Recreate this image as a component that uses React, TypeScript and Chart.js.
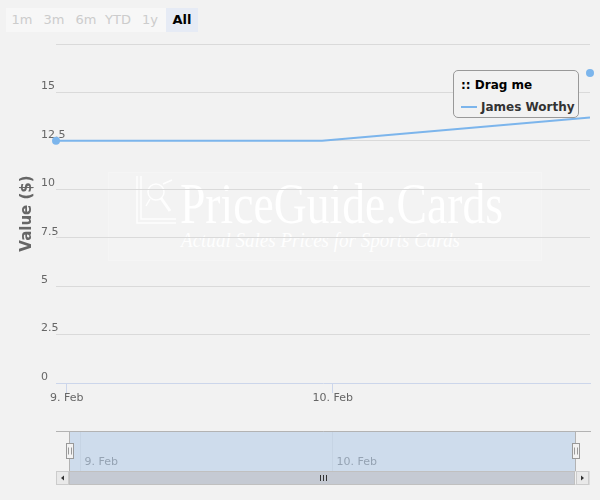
import React, { useEffect, useRef } from 'react';
import { Chart, registerables } from 'chart.js';

Chart.register(...registerables);

// ---- data (days relative to 9 Feb 00:00) ----
const seriesName = 'James Worthy';
const seriesDays = [-0.04, 0.96, 1.967];
const seriesValues = [12.5, 12.5, 13.7];
const extraPointDays = [1.967];
const extraPointValues = [16];
const xTickDays = [0, 1];
const xTickLabels = ['9. Feb', '10. Feb'];
const yTickValues = [0, 2.5, 5, 7.5, 10, 12.5, 15, 17.5];
const yTickLabels = ['0', '2.5', '5', '7.5', '10', '12.5', '15', ''];
const rangeButtons = ['1m', '3m', '6m', 'YTD', '1y', 'All'];
const selectedButton = 'All';
const xMin = -0.04;
const xMax = 1.967;
const yMin = 0;
const yMax = 17.5;
const yTitle = 'Value ($)';
const legendTitle = ':: Drag me';

const FONT = 'DejaVu Sans';
const SERIES_COLOR = '#7cb5ec';

const navigatorPlugin = {
  id: 'navigatorPlugin',
  afterDraw(chart: any) {
    const ctx: CanvasRenderingContext2D = chart.ctx;
    const { left, right } = chart.chartArea;
    const top = 431;
    const height = 40;
    const bottom = top + height;
    const sbH = 14;
    const navL = left + sbH;
    const navR = right - sbH;
    const toX = (d: number) => navL + ((d - xMin) / (xMax - xMin)) * (navR - navL);

    ctx.save();
    // navigator grid lines + labels
    ctx.font = `11px "${FONT}"`;
    ctx.textAlign = 'left';
    ctx.textBaseline = 'middle';
    xTickDays.forEach((d, i) => {
      const x = Math.round(toX(d)) + 0.5;
      ctx.strokeStyle = '#e6e6e6';
      ctx.lineWidth = 1;
      ctx.beginPath();
      ctx.moveTo(x, top);
      ctx.lineTo(x, bottom);
      ctx.stroke();
      ctx.fillStyle = '#999999';
      ctx.fillText(xTickLabels[i], x + 4, top + 31);
    });

    // mask
    ctx.fillStyle = 'rgba(140,180,225,0.36)';
    ctx.fillRect(navL - 1, top, navR - navL, height);

    // outline
    ctx.strokeStyle = '#b3b3b3';
    ctx.lineWidth = 1;
    ctx.beginPath();
    ctx.moveTo(left, top + 0.5);
    ctx.lineTo(right + 1, top + 0.5);
    ctx.moveTo(navL - 0.5, top);
    ctx.lineTo(navL - 0.5, bottom);
    ctx.moveTo(navR - 0.5, top);
    ctx.lineTo(navR - 0.5, bottom);
    ctx.stroke();

    // scrollbar track
    ctx.fillStyle = '#f2f2f2';
    ctx.strokeStyle = '#dcdcdc';
    ctx.fillRect(left, bottom, right - left, sbH);
    ctx.strokeRect(left + 0.5, bottom + 0.5, right - left - 1, sbH - 1);
    // thumb
    ctx.fillStyle = '#c5cad3';
    ctx.strokeStyle = '#c0c0c0';
    ctx.fillRect(navL - 1, bottom, navR - navL, sbH);
    ctx.strokeRect(navL - 0.5, bottom + 0.5, navR - navL - 1, sbH - 1);
    // thumb grip
    const cx = Math.round((navL + navR) / 2) + 0.5;
    ctx.strokeStyle = '#333333';
    ctx.beginPath();
    [-3, 0, 3].forEach((o) => {
      ctx.moveTo(cx + o, bottom + 4);
      ctx.lineTo(cx + o, bottom + 10);
    });
    ctx.stroke();
    // buttons
    const drawBtn = (x: number, dir: number) => {
      ctx.fillStyle = '#e9e9e9';
      ctx.strokeStyle = '#cccccc';
      ctx.fillRect(x, bottom, sbH - 1, sbH);
      ctx.strokeRect(x + 0.5, bottom + 0.5, sbH - 2, sbH - 1);
      const bx = x + (sbH - 1) / 2;
      const by = bottom + sbH / 2;
      ctx.fillStyle = '#333333';
      ctx.beginPath();
      ctx.moveTo(bx - 1.5 * dir, by);
      ctx.lineTo(bx + 1.5 * dir, by - 2.5);
      ctx.lineTo(bx + 1.5 * dir, by + 2.5);
      ctx.closePath();
      ctx.fill();
    };
    drawBtn(left, 1);
    drawBtn(right - sbH + 0, -1);

    // handles
    const drawHandle = (x: number) => {
      const hx = Math.round(x) - 4 + 0.5;
      const hy = top + 12 + 0.5;
      ctx.fillStyle = '#f2f2f2';
      ctx.strokeStyle = '#999999';
      ctx.fillRect(hx, hy, 7, 15);
      ctx.strokeRect(hx, hy, 7, 15);
      ctx.beginPath();
      ctx.moveTo(hx + 2.5 - 0.5, hy + 4);
      ctx.lineTo(hx + 2.5 - 0.5, hy + 11);
      ctx.moveTo(hx + 4.5 + 0.5, hy + 4);
      ctx.lineTo(hx + 4.5 + 0.5, hy + 11);
      ctx.stroke();
    };
    drawHandle(navL);
    drawHandle(navR);
    ctx.restore();
  },
};

export default function App() {
  const canvasRef = useRef<HTMLCanvasElement | null>(null);

  useEffect(() => {
    if (!canvasRef.current) return;
    const chart = new Chart(canvasRef.current, {
      type: 'line',
      data: {
        datasets: [
          {
            label: seriesName,
            data: seriesDays.map((d, i) => ({ x: d, y: seriesValues[i] })),
            borderColor: SERIES_COLOR,
            backgroundColor: SERIES_COLOR,
            borderWidth: 2,
            pointRadius: seriesDays.map((_, i) => (i === 0 ? 4 : 0)),
            pointBorderWidth: 0,
            pointBackgroundColor: SERIES_COLOR,
            tension: 0,
            fill: false,
            clip: false as any,
          },
          {
            label: seriesName + ' point',
            data: extraPointDays.map((d, i) => ({ x: d, y: extraPointValues[i] })),
            showLine: false,
            borderColor: SERIES_COLOR,
            backgroundColor: SERIES_COLOR,
            pointRadius: 4,
            pointBorderWidth: 0,
            pointBackgroundColor: SERIES_COLOR,
            clip: false as any,
          },
        ],
      },
      options: {
        responsive: false,
        animation: false,
        events: [],
        layout: { padding: { top: 44, right: 10, bottom: 87, left: 0 } },
        plugins: {
          legend: { display: false },
          tooltip: { enabled: false },
        },
        scales: {
          x: {
            type: 'linear',
            min: xMin,
            max: xMax,
            afterBuildTicks: (scale: any) => {
              scale.ticks = xTickDays.map((v) => ({ value: v }));
            },
            afterFit: (scale: any) => {
              scale.height = 30;
            },
            grid: {
              drawOnChartArea: false,
              drawTicks: true,
              tickLength: 10,
              color: '#ccd6eb',
            },
            border: { display: true, color: '#ccd6eb' },
            ticks: {
              color: '#666666',
              font: { family: FONT, size: 11 },
              padding: -1,
              maxRotation: 0,
              autoSkip: false,
              callback: (v: any) => {
                const i = xTickDays.indexOf(Number(v));
                return i >= 0 ? xTickLabels[i] : '';
              },
            },
          },
          y: {
            type: 'linear',
            min: yMin,
            max: yMax,
            afterBuildTicks: (scale: any) => {
              scale.ticks = yTickValues.map((v) => ({ value: v }));
            },
            afterFit: (scale: any) => {
              scale.width = 56;
            },
            grid: {
              drawTicks: false,
              color: (c: any) => (c.tick && c.tick.value === 0 ? 'rgba(0,0,0,0)' : '#dadada'),
            },
            border: { display: false },
            ticks: {
              mirror: true,
              padding: -15,
              labelOffset: -6,
              color: '#666666',
              font: { family: FONT, size: 11 },
              callback: (v: any) => {
                const i = yTickValues.indexOf(Number(v));
                return i >= 0 ? yTickLabels[i] : '';
              },
            },
            title: {
              display: true,
              text: yTitle,
              color: '#666666',
              font: { family: FONT, size: 15, weight: 'bold' },
              padding: { top: 18, bottom: 0 },
            },
          },
        },
      },
      plugins: [navigatorPlugin],
    } as any);
    return () => chart.destroy();
  }, []);

  return (
    <div style={{ position: 'relative', width: 600, height: 500, background: '#f2f2f2', overflow: 'hidden' }}>
      <style>{`html,body{margin:0;padding:0;background:#f2f2f2;}`}</style>
      {/* watermark behind the chart */}
      <svg width={600} height={500} style={{ position: 'absolute', left: 0, top: 0 }}>
        <rect x={108.5} y={172.5} width={433} height={88} fill="rgba(255,255,255,0.08)" stroke="rgba(255,255,255,0.25)" />
        <g stroke="rgba(255,255,255,0.9)" strokeWidth={1.5} fill="none">
          <path d="M137 176 L137 223 L176 223" />
          <path d="M141 176 L141 219 L176 219" />
          <circle cx={156} cy={192} r={8} />
          <path d="M161 198 L170 211" strokeWidth={3} />
          <path d="M146 206 L150 199" />
          <path d="M163 184 L172 180" />
        </g>
        <text
          x={180}
          y={223}
          fontFamily="Liberation Serif"
          fontSize={57}
          fill="rgba(255,255,255,0.95)"
          textLength={323}
          lengthAdjust="spacingAndGlyphs"
        >
          PriceGuide.Cards
        </text>
        <text
          x={181}
          y={247}
          fontFamily="Liberation Serif"
          fontStyle="italic"
          fontSize={22}
          fill="rgba(255,255,255,0.95)"
          textLength={279}
          lengthAdjust="spacingAndGlyphs"
        >
          Actual Sales Prices for Sports Cards
        </text>
      </svg>
      <canvas
        ref={canvasRef}
        width={600}
        height={500}
        style={{ position: 'absolute', left: 0, top: 0, width: 600, height: 500 }}
      />
      {/* range selector */}
      <div style={{ position: 'absolute', left: 6, top: 8, display: 'flex', fontFamily: FONT, fontSize: 13 }}>
        {rangeButtons.map((b) => {
          const sel = b === selectedButton;
          return (
            <div
              key={b}
              style={{
                width: 32,
                height: 24,
                lineHeight: '24px',
                textAlign: 'center',
                background: sel ? '#e6ebf5' : '#f7f7f7',
                color: sel ? '#000000' : '#cccccc',
                fontWeight: sel ? 'bold' : 'normal',
              }}
            >
              {b}
            </div>
          );
        })}
      </div>
      {/* legend */}
      <div
        style={{
          position: 'absolute',
          left: 453,
          top: 70,
          width: 126,
          height: 48,
          boxSizing: 'border-box',
          border: '1px solid #999999',
          borderRadius: 5,
          background: '#f2f2f2',
          fontFamily: FONT,
          fontSize: 12,
          fontWeight: 'bold',
        }}
      >
        <div style={{ position: 'absolute', left: 7, top: 7, color: '#000000', lineHeight: '14px', whiteSpace: 'nowrap' }}>
          {legendTitle}
        </div>
        <div
          style={{
            position: 'absolute',
            left: 7,
            top: 29,
            color: '#333333',
            lineHeight: '14px',
            display: 'flex',
            alignItems: 'center',
            whiteSpace: 'nowrap',
          }}
        >
          <span style={{ display: 'inline-block', width: 16, height: 2, background: SERIES_COLOR, marginRight: 4 }} />
          {seriesName}
        </div>
      </div>
    </div>
  );
}
